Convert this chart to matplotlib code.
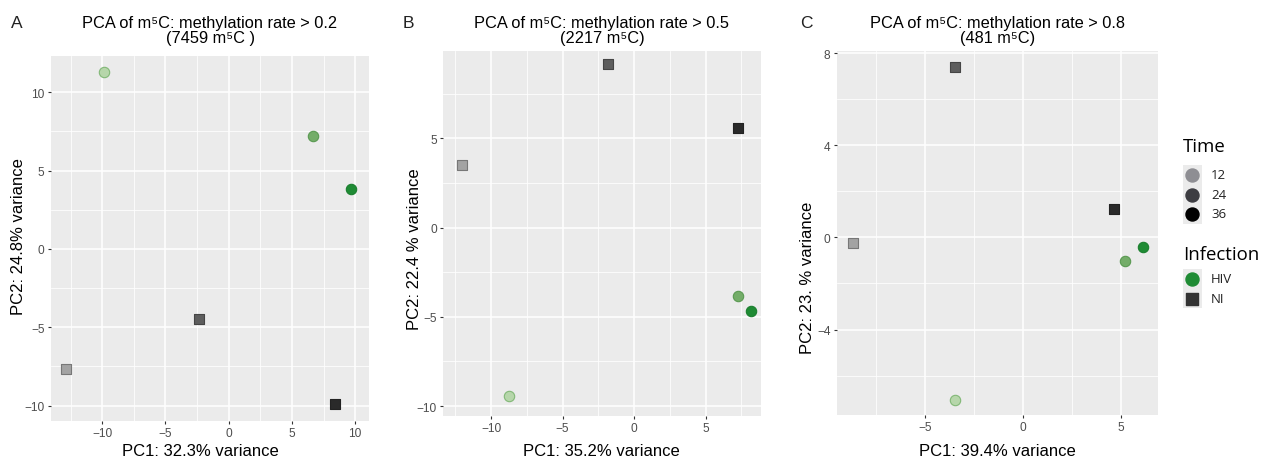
import matplotlib.pyplot as plt
from matplotlib.patches import Rectangle

plt.rcParams['font.family'] = ['Liberation Sans', 'DejaVu Sans']

# samples (same order in each panel)
infection = ['HIV', 'HIV', 'HIV', 'NI', 'NI', 'NI']
time = [12, 24, 36, 12, 24, 36]

# PCA coordinates
pc_a_x = [-9.84, 6.66, 9.66, -12.87, -2.35, 8.41]
pc_a_y = [11.28, 7.2, 3.8, -7.66, -4.49, -9.91]
pc_b_x = [-8.74, 7.3, 8.16, -12.0, -1.8, 7.3]
pc_b_y = [-9.44, -3.82, -4.7, 3.48, 9.16, 5.6]
pc_c_x = [-3.47, 5.22, 6.14, -8.66, -3.47, 4.66]
pc_c_y = [-7.04, -1.04, -0.40, -0.26, 7.38, 1.25]

titles = ['PCA of m\u2075C: methylation rate > 0.2', 'PCA of m\u2075C: methylation rate > 0.5',
          'PCA of m\u2075C: methylation rate > 0.8']
subtitles = ['(7459 m\u2075C )', '(2217 m\u2075C)', '(481 m\u2075C)']
xlabels = ['PC1: 32.3% variance', 'PC1: 35.2% variance', 'PC1: 39.4% variance']
ylabels = ['PC2: 24.8% variance', 'PC2: 22.4 % variance', 'PC2: 23. % variance']
letters = ['A', 'B', 'C']

time_levels = [12, 24, 36]
infection_levels = ['HIV', 'NI']

fill = {('HIV', 12): '#b6d6aa', ('HIV', 24): '#74ad69', ('HIV', 36): '#1f8b34',
        ('NI', 12): '#a3a3a3', ('NI', 24): '#5e5e5e', ('NI', 36): '#2a2a2a'}
edge = {('HIV', 12): '#82b877', ('HIV', 24): '#5a9a52', ('HIV', 36): '#1c7f2f',
        ('NI', 12): '#777777', ('NI', 24): '#454545', ('NI', 36): '#222222'}
shape = {'HIV': 'o', 'NI': 's'}
size = {'HIV': 56, 'NI': 46}

W, H = 1270, 464
fig = plt.figure(figsize=(W / 100, H / 100), dpi=100)


def fx(x):
    return x / W


def fy(y):
    return 1 - y / H


# layout in pixels: left, right, top, bottom
boxes = [(50.7, 369.3, 57.3, 421.7), (443, 761, 52, 417), (836.7, 1158, 52, 416)]
xlims = [(-14.08, 11.12), (-13.36, 8.88), (-9.49, 6.9)]
ylims = [(-10.96, 12.3), (-10.56, 9.89), (-7.71, 8.09)]
xmaj = [[-10, -5, 0, 5, 10], [-10, -5, 0, 5], [-5, 0, 5]]
xmin = [[-12.5, -7.5, -2.5, 2.5, 7.5], [-12.5, -7.5, -2.5, 2.5, 7.5], [-7.5, -2.5, 2.5]]
ymaj = [[-10, -5, 0, 5, 10], [-10, -5, 0, 5], [-4, 0, 4, 8]]
ymin = [[-7.5, -2.5, 2.5, 7.5], [-7.5, -2.5, 2.5, 7.5], [-6, -2, 2, 6]]
xlab_pos = [200, 601, 997]
ylab_pos = [(19, 237), (415, 249), (807, 278)]
letter_x = [11, 403, 800]

data = [(pc_a_x, pc_a_y), (pc_b_x, pc_b_y), (pc_c_x, pc_c_y)]

for k in range(3):
    l, r, t, b = boxes[k]
    ax = fig.add_axes([fx(l), fy(b), (r - l) / W, (b - t) / H])
    ax.set_facecolor('#ebebeb')
    for s in ax.spines.values():
        s.set_visible(False)
    ax.set_xlim(*xlims[k])
    ax.set_ylim(*ylims[k])
    ax.set_xticks(xmaj[k])
    ax.set_xticks(xmin[k], minor=True)
    ax.set_yticks(ymaj[k])
    ax.set_yticks(ymin[k], minor=True)
    ax.grid(which='major', color='white', lw=1.1)
    ax.grid(which='minor', color='white', lw=0.55)
    ax.set_axisbelow(True)
    ax.tick_params(which='major', length=2.5, width=0.8, color='#333333',
                   labelsize=8.6, labelcolor='#4d4d4d', pad=2)
    ax.tick_params(which='minor', length=0)

    xs, ys = data[k]
    for i in range(len(xs)):
        key = (infection[i], time[i])
        ax.scatter(xs[i], ys[i], s=size[infection[i]], marker=shape[infection[i]],
                   facecolor=fill[key], edgecolor=edge[key], linewidth=0.8, zorder=3)

    cx = (l + r) / 2
    fig.text(fx(cx), fy(28.3), titles[k], ha='center', va='baseline', fontsize=11.8)
    fig.text(fx(cx), fy(43.5), subtitles[k], ha='center', va='baseline', fontsize=11.8)
    fig.text(fx(xlab_pos[k]), fy(456), xlabels[k], ha='center', va='baseline', fontsize=12)
    fig.text(fx(ylab_pos[k][0]), fy(ylab_pos[k][1]), ylabels[k], ha='center', va='center',
             rotation=90, fontsize=12)
    fig.text(fx(letter_x[k]), fy(28.3), letters[k], ha='left', va='baseline', fontsize=12.5,
             color='#222222')

# legend drawn in pixel space on an overlay
lg = fig.add_axes([0, 0, 1, 1], zorder=5)
lg.set_xlim(0, W)
lg.set_ylim(H, 0)
lg.axis('off')
lfont = ['Open Sans', 'DejaVu Sans']
key_x, lab_x, step = 1192.3, 1211, 19.5

time_cols = ['#8e8e93', '#3d3d42', '#000000']
lg.text(1183, 151.7, 'Time', fontsize=13.4, family=lfont, va='baseline')
for j, lev in enumerate(time_levels):
    yy = 176 + j * step
    lg.add_patch(Rectangle((key_x - 9.5, yy - 9.75), 19, step, color='#ebebeb', lw=0))
    lg.scatter(key_x, yy, s=88, marker='o', color=time_cols[j], zorder=6)
    lg.text(lab_x, yy, str(lev), fontsize=9.5, family=lfont, va='center', color='#222222')

inf_cols = ['#1f8b34', '#333333']
lg.text(1183, 260, 'Infection', fontsize=13.4, family=lfont, va='baseline')
for j, lev in enumerate(infection_levels):
    yy = 280 + j * step
    lg.add_patch(Rectangle((key_x - 9.5, yy - 9.75), 19, step, color='#ebebeb', lw=0))
    lg.scatter(key_x, yy, s=88 if lev == 'HIV' else 79, marker=shape[lev],
               color=inf_cols[j], zorder=6)
    lg.text(lab_x, yy, lev, fontsize=9.5, family=lfont, va='center', color='#222222')

fig.savefig('out.png', dpi=100)
